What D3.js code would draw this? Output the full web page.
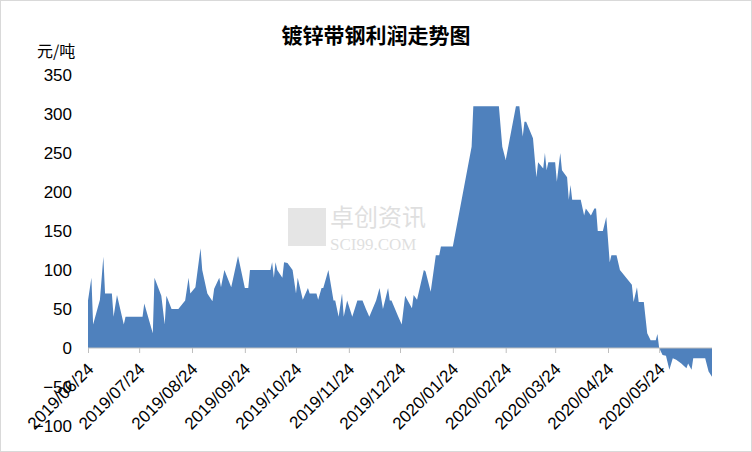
<!DOCTYPE html>
<html><head><meta charset="utf-8">
<script src="https://cdn.jsdelivr.net/npm/d3@7"></script>
<style>body{margin:0;background:#fff}svg{display:block}</style>
</head><body>
<svg id="c" width="752" height="452"></svg>
<script>
const startDate = "2019-06-24";
const dayOffsets = [0,2,3,7,9,10,14,15,17,21,22,32,33,38,39,43,45,46,49,53,57,59,60,63,66,67,70,73,74,77,78,80,84,88,92,94,95,107,108,109,110,111,114,115,117,120,122,123,126,129,130,134,135,137,138,141,144,145,147,149,150,152,155,158,161,163,165,169,171,173,176,177,178,182,184,186,190,191,193,197,198,201,204,206,207,214,225,226,241,243,245,251,253,255,256,257,261,263,264,267,268,269,270,274,275,277,278,281,282,283,284,289,291,292,295,297,298,299,302,304,306,307,310,312,319,320,322,323,326,328,330,333,334,335,337,339,341,343,345,348,351,352,354,355,362,364,366];
const profit = [61,90,30,62,117,70,70,40,68,30,40,40,57,19,90,67,30,67,50,50,61,90,70,78,128,100,70,60,76,90,78,100,78,118,77,77,100,100,110,90,110,100,90,110,109,100,70,90,62,77,70,70,62,77,77,100,61,61,40,70,40,61,40,61,61,50,40,61,77,50,77,61,61,40,30,67,51,68,62,100,98,72,119,119,130,130,258,310,310,258,241,310,310,271,290,290,269,219,238,230,250,228,238,238,213,250,228,219,190,209,190,190,170,179,170,179,179,150,150,168,110,119,119,100,81,59,78,59,59,19,10,10,18,0,-9,-10,-28,-13,-15,-20,-26,-20,-28,-13,-13,-30,-37];
const yTicks = [-100,-50,0,50,100,150,200,250,300,350];
const xTickDates = ["2019-06-24","2019-07-24","2019-08-24","2019-09-24","2019-10-24","2019-11-24","2019-12-24","2020-01-24","2020-02-24","2020-03-24","2020-04-24","2020-05-24"];
const title = "镀锌带钢利润走势图", unit = "元/吨";

const parse = d3.timeParse("%Y-%m-%d");
const base = parse(startDate);
const data = dayOffsets.map((o,i)=>({date:d3.timeDay.offset(base,o), v:profit[i]}));
const svg = d3.select("#c");
svg.append("rect").attr("x",0.5).attr("y",0.5).attr("width",751).attr("height",451).attr("fill","#fff").attr("stroke","#d9d9d9");
const x = d3.scaleTime().domain([base, d3.timeDay.offset(base,366)]).range([88,712]);
const y = d3.scaleLinear().domain([-100,350]).range([426,75]);
const font = "'Liberation Sans', Arial, sans-serif";

svg.append("text").attr("x",376).attr("y",43).attr("text-anchor","middle").attr("font-family","'Noto Sans CJK SC'").attr("font-weight","bold").attr("font-size",21).text(title);
svg.append("text").attr("x",37).attr("y",57).attr("font-family","'Noto Sans CJK SC'").attr("font-size",16).text(unit);

// watermark
const wm = svg.append("g").attr("opacity",0.3);
wm.append("text").attr("x",330).attr("y",226).attr("font-family","'Noto Sans CJK SC'").attr("font-size",24).attr("fill","#999").text("卓创资讯");
wm.append("text").attr("x",330).attr("y",250).attr("font-family","'Liberation Serif'").attr("font-size",17).attr("fill","#999").text("SCI99.COM");
wm.append("rect").attr("x",288).attr("y",208).attr("width",38).attr("height",38).attr("fill","#aaa");

svg.append("path").datum(data).attr("fill","#4f81bd")
  .attr("d", d3.area().x(d=>x(d.date)).y0(y(0)).y1(d=>y(d.v)));

const yg = svg.append("g").attr("transform","translate(80,0)").call(d3.axisLeft(y).tickValues(yTicks).tickSize(0).tickPadding(8));
yg.select(".domain").remove();
yg.selectAll("text").attr("font-family",font).attr("font-size",17).attr("fill","#000");

const xt = xTickDates.map(parse);
const xg = svg.append("g").attr("transform",`translate(0,${y(0)})`).call(d3.axisBottom(x).tickValues(xt).tickSize(5).tickFormat(d3.timeFormat("%Y/%m/%d")));
xg.select(".domain").attr("stroke","#bfbfbf").attr("d","M88,0H712");
xg.selectAll("line").attr("stroke","#bfbfbf");
xg.selectAll("text").attr("font-family",font).attr("font-size",17).attr("fill","#000")
  .attr("text-anchor","end").attr("dy","0.35em").attr("transform","translate(2,18) rotate(-45)").attr("y",0).attr("x",0);
</script>
</body></html>
